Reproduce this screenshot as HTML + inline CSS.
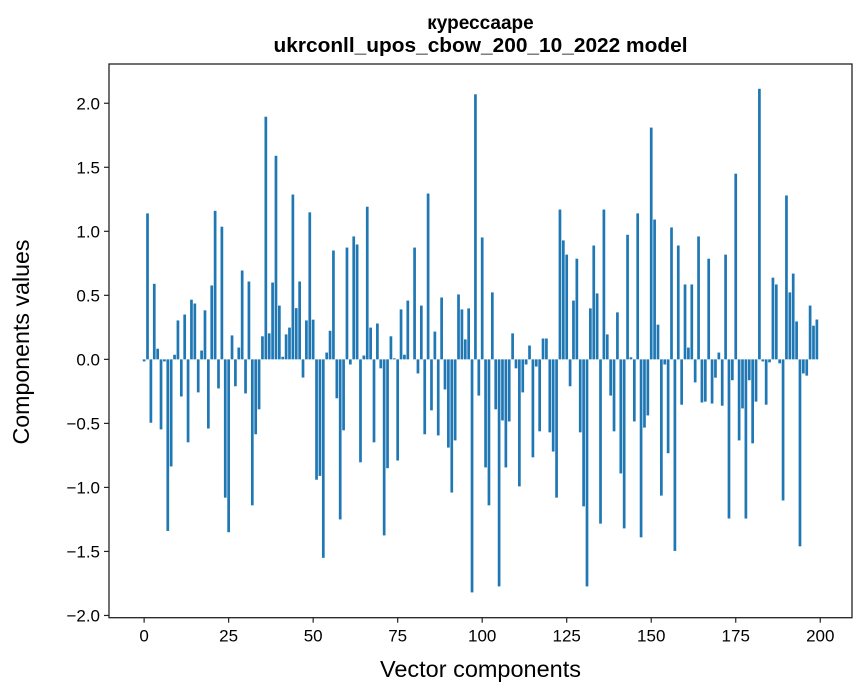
<!DOCTYPE html>
<html><head><meta charset="utf-8"><style>
html,body{margin:0;padding:0;background:#fff;}
svg{display:block;font-family:"Liberation Sans","DejaVu Sans",sans-serif;}
</style></head><body>
<svg id="chart" width="867" height="696" viewBox="0 0 867 696" xmlns="http://www.w3.org/2000/svg">
<rect width="867" height="696" fill="#fff"/>
<text x="480.5" y="29" text-anchor="middle" font-size="19" font-weight="bold">курессааре</text>
<text x="480.5" y="52" text-anchor="middle" font-size="20.5" font-weight="bold" textLength="414" lengthAdjust="spacingAndGlyphs">ukrconll_upos_cbow_200_10_2022 model</text>
<g id="bars"></g>
<g id="xticks"></g>
<g id="yticks"></g>
<rect x="109" y="64" width="743" height="553.7" fill="none" stroke="#222" stroke-width="1.3"/>
<text x="480.5" y="677" text-anchor="middle" font-size="23" textLength="201" lengthAdjust="spacingAndGlyphs">Vector components</text>
<text transform="translate(29,342) rotate(-90)" text-anchor="middle" font-size="23" textLength="205" lengthAdjust="spacingAndGlyphs">Components values</text>
</svg>
<script>
const values = [-0.016,1.14,-0.495,0.59,0.083,-0.547,-0.016,-1.34,-0.836,0.036,
0.304,-0.29,0.35,-0.648,0.466,0.436,-0.258,0.069,0.383,-0.54,
0.577,1.16,-0.227,1.036,-1.08,-1.35,0.187,-0.21,0.092,0.694,
-0.266,0.608,-1.14,-0.585,-0.39,0.18,1.895,0.203,0.6,1.59,
0.42,0.02,0.195,0.248,1.287,0.4,0.608,-0.142,0.304,1.148,
0.31,-0.94,-0.91,-1.55,0.053,0.223,0.85,-0.304,-1.25,-0.554,
0.873,-0.04,0.96,0.897,-0.804,0.03,1.192,0.248,-0.648,0.28,
-0.07,-1.375,-0.85,0.18,0.008,-0.79,0.39,0.036,0.459,0,
0.873,-0.11,0.42,-0.585,1.295,-0.398,0.217,-0.594,0.483,-0.235,
-0.689,-1.04,-0.633,0.507,0.39,0.156,0.398,-1.82,2.07,-0.283,
0.952,-0.844,-1.14,0.523,-0.39,-1.773,-0.477,-0.844,-0.485,0.203,
-0.07,-0.992,-0.258,-0.04,0.108,-0.765,-0.056,-0.562,0.163,0.163,
-0.57,-0.72,-1.08,1.17,0.929,0.818,-0.21,0.459,0.786,-0.57,
-1.148,-1.773,0.398,0.889,0.515,-1.283,1.17,0.195,-0.283,-0.562,
0.367,-0.891,-1.32,0.973,0.016,-0.485,1.14,-1.39,-0.533,-0.438,
1.81,1.092,0.271,-1.064,-0.04,-0.733,1.03,-1.496,0.889,-0.354,
0.585,0.092,0.585,-0.18,0.96,-0.337,-0.33,0.786,-0.345,-0.143,
0.053,-0.362,0.818,-1.243,-0.163,1.45,-0.633,-0.383,-1.243,-0.163,
-0.656,-0.33,2.113,-0.016,-0.354,-0.023,0.638,0.585,-0.031,-1.102,
1.28,0.523,0.67,0.296,-1.46,-0.11,-0.127,0.42,0.263,0.311];
const xTickValues = [0,25,50,75,100,125,150,175,200];
const yTickValues = [-2.0,-1.5,-1.0,-0.5,0.0,0.5,1.0,1.5,2.0];

const NS = "http://www.w3.org/2000/svg";
const PL = 109, PR = 852, PT = 64, PB = 617.7;
const XMIN = -10.39, XMAX = 209.39, YMIN = -2.0175, YMAX = 2.3066;
function xs(v){ return PL + (v - XMIN) / (XMAX - XMIN) * (PR - PL); }
function ys(v){ return PB - (v - YMIN) / (YMAX - YMIN) * (PB - PT); }
function fmt(v){ return (v < 0 ? "\u2212" : "") + Math.abs(v).toFixed(1); }

const barsG = document.getElementById("bars");
values.forEach((v, i) => {
  const r = document.createElementNS(NS, "rect");
  const x0 = xs(i - 0.4), x1 = xs(i + 0.4);
  const y0 = ys(Math.max(v, 0)), y1 = ys(Math.min(v, 0));
  r.setAttribute("x", x0);
  r.setAttribute("width", x1 - x0);
  r.setAttribute("y", y0);
  r.setAttribute("height", Math.max(y1 - y0, 0.01));
  r.setAttribute("fill", "#1f77b4");
  
  
  barsG.appendChild(r);
});

const xg = document.getElementById("xticks");
xTickValues.forEach(t => {
  const x = xs(t);
  const l = document.createElementNS(NS, "line");
  l.setAttribute("x1", x); l.setAttribute("x2", x);
  l.setAttribute("y1", PB); l.setAttribute("y2", PB + 5);
  l.setAttribute("stroke", "#222"); l.setAttribute("stroke-width", "1.2");
  
  
  xg.appendChild(l);
  const tx = document.createElementNS(NS, "text");
  tx.setAttribute("x", x); tx.setAttribute("y", PB + 24);
  tx.setAttribute("text-anchor", "middle"); tx.setAttribute("font-size", "17");
  tx.textContent = String(t);
  
  
  xg.appendChild(tx);
});

const yg = document.getElementById("yticks");
yTickValues.forEach(t => {
  const y = ys(t);
  const l = document.createElementNS(NS, "line");
  l.setAttribute("x1", PL - 5); l.setAttribute("x2", PL);
  l.setAttribute("y1", y); l.setAttribute("y2", y);
  l.setAttribute("stroke", "#222"); l.setAttribute("stroke-width", "1.2");
  
  
  yg.appendChild(l);
  const tx = document.createElementNS(NS, "text");
  tx.setAttribute("x", PL - 9); tx.setAttribute("y", y + 6);
  tx.setAttribute("text-anchor", "end"); tx.setAttribute("font-size", "17");
  tx.textContent = fmt(t);
  
  
  yg.appendChild(tx);
});
</script>
</body></html>
